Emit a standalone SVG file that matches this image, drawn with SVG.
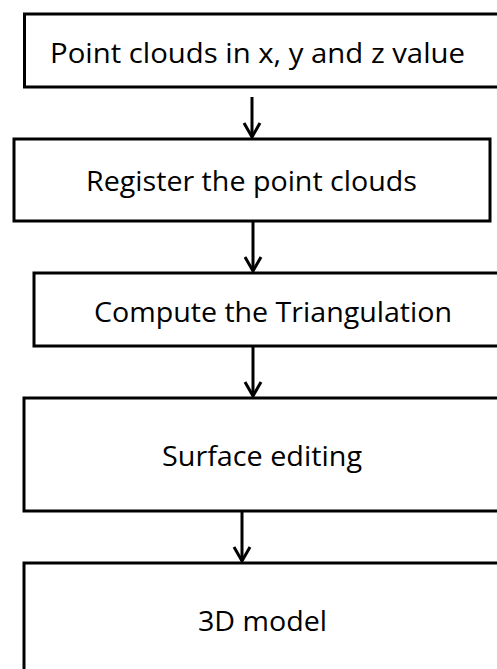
<svg xmlns="http://www.w3.org/2000/svg" width="497" height="669" viewBox="0 0 497 669">
<defs>
<style>
.box{fill:#fff;stroke:#000;stroke-width:3}
.lbl{font-family:"Open Sans","DejaVu Sans",sans-serif;font-size:28px;fill:#000;text-anchor:middle}
.conn{stroke:#000;stroke-width:3;fill:none}
</style>
<marker id="ah" markerUnits="userSpaceOnUse" markerWidth="20" markerHeight="20" refX="16" refY="10" orient="auto" viewBox="0 0 20 20">
<path d="M2,2 L16,10 L2,18" fill="none" stroke="#000" stroke-width="3"/>
</marker>
</defs>
<rect width="497" height="669" fill="#fff"/>
<g id="n1">
<rect class="box" x="24.5" y="14" width="490" height="73"/>
<text class="lbl" x="257.5" y="63" textLength="415" lengthAdjust="spacingAndGlyphs">Point clouds in x, y and z value</text>
</g>
<g id="n2">
<rect class="box" x="14" y="139" width="476" height="82"/>
<text class="lbl" x="251.5" y="191" textLength="331" lengthAdjust="spacingAndGlyphs">Register the point clouds</text>
</g>
<g id="n3">
<rect class="box" x="34" y="273" width="480" height="73"/>
<text class="lbl" x="273" y="322" textLength="358" lengthAdjust="spacingAndGlyphs">Compute the Triangulation</text>
</g>
<g id="n4">
<rect class="box" x="24" y="398" width="490" height="113"/>
<text class="lbl" x="262" y="466" textLength="200" lengthAdjust="spacingAndGlyphs">Surface editing</text>
</g>
<g id="n5">
<rect class="box" x="24" y="563" width="490" height="130"/>
<text class="lbl" x="262.5" y="631" textLength="129" lengthAdjust="spacingAndGlyphs">3D model</text>
</g>
<g id="connectors">
<line class="conn" x1="252" y1="97" x2="252" y2="137" marker-end="url(#ah)"/>
<line class="conn" x1="253" y1="221" x2="253" y2="271" marker-end="url(#ah)"/>
<line class="conn" x1="253" y1="346" x2="253" y2="396" marker-end="url(#ah)"/>
<line class="conn" x1="242" y1="511" x2="242" y2="561" marker-end="url(#ah)"/>
</g>
</svg>
